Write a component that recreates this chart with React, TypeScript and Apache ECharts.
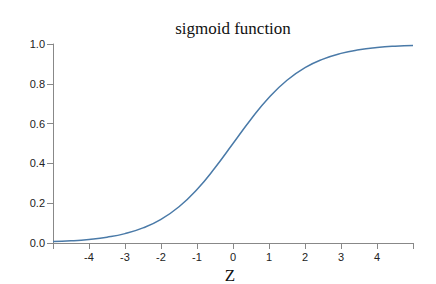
import React, { useEffect, useRef } from "react";
import * as echarts from "echarts";

const zValues = [-5, -4.5, -4, -3.5, -3, -2.5, -2, -1.5, -1, -0.5, 0, 0.5, 1, 1.5, 2, 2.5, 3, 3.5, 4, 4.5, 5];
const sigmoidValues = [0.007, 0.011, 0.018, 0.029, 0.047, 0.076, 0.119, 0.182, 0.269, 0.378, 0.5, 0.622, 0.731, 0.818, 0.881, 0.924, 0.953, 0.971, 0.982, 0.989, 0.993];
const titleText = "sigmoid function";
const xAxisName = "Z";

export default function App() {
  const ref = useRef<HTMLDivElement>(null);
  useEffect(() => {
    if (!ref.current) return;
    const chart = echarts.init(ref.current, undefined, { renderer: "svg" });
    const axisColor = "#888";
    chart.setOption({
      animation: false,
      graphic: [
        {
          type: "text",
          x: 233,
          y: 28,
          style: {
            text: titleText,
            fontFamily: "Liberation Serif",
            fontSize: 17,
            fill: "#111",
            textAlign: "center",
            textVerticalAlign: "middle",
          },
        },
      ],
      grid: { left: 53, right: 23, top: 44, bottom: 41, containLabel: false, outerBoundsMode: "none" },
      xAxis: {
        type: "value",
        min: -5,
        max: 5,
        interval: 1,
        name: xAxisName,
        nameLocation: "middle",
        nameGap: 23,
        nameTextStyle: { fontFamily: "Liberation Serif", fontSize: 17, color: "#111", padding: [0, 6, 0, 0] },
        axisLine: { onZero: false, lineStyle: { color: axisColor } },
        axisTick: { length: 6, lineStyle: { color: axisColor } },
        splitLine: { show: false },
        axisLabel: {
          fontFamily: "Liberation Sans",
          fontSize: 11,
          color: "#222",
          margin: 8,
          formatter: (v: number) => (v === -5 || v === 5 ? "" : String(v)),
        },
      },
      yAxis: {
        type: "value",
        min: 0,
        max: 1,
        interval: 0.2,
        axisLine: { show: true, onZero: false, lineStyle: { color: axisColor } },
        axisTick: { show: true, length: 6, lineStyle: { color: axisColor } },
        splitLine: { show: false },
        axisLabel: {
          fontFamily: "Liberation Sans",
          fontSize: 11,
          color: "#222",
          margin: 8,
          formatter: (v: number) => v.toFixed(1),
        },
      },
      series: [
        {
          type: "line",
          data: zValues.map((z, i) => [z, sigmoidValues[i]]),
          smooth: true,
          showSymbol: false,
          lineStyle: { color: "#4a7aa8", width: 1.5 },
        },
      ],
    });
    return () => chart.dispose();
  }, []);
  return <div ref={ref} style={{ width: 436, height: 284, position: "absolute", left: 0, top: 0 }} />;
}
